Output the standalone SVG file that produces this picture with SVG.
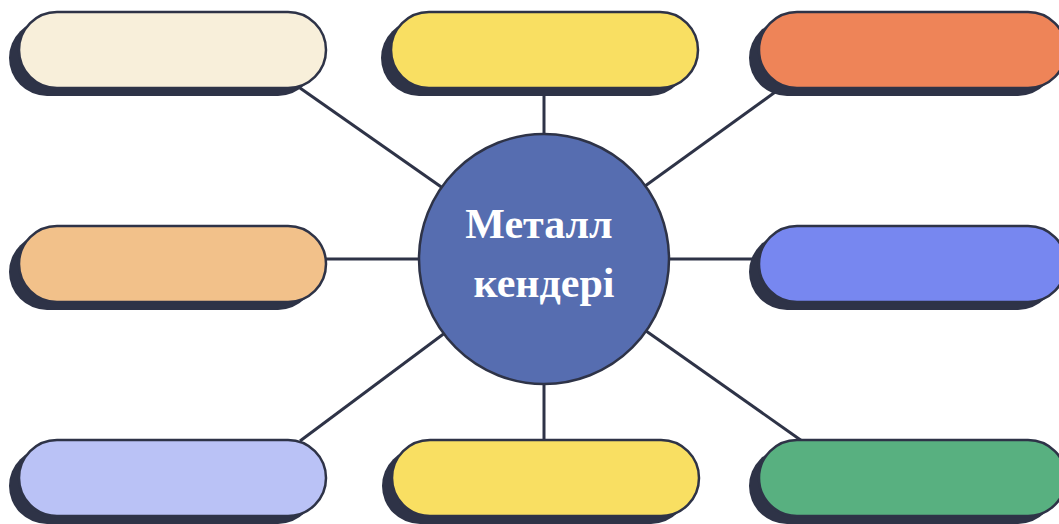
<svg xmlns="http://www.w3.org/2000/svg" width="1059" height="524" viewBox="0 0 1059 524">
<style>
.shadow{fill:#2E3347}
.pill{stroke:#2E3347;stroke-width:2.5}
.conn line{stroke:#2E3347;stroke-width:3}
.title{font-family:"Liberation Serif",serif;font-weight:bold;font-size:42px;fill:#FFFFFF;text-anchor:middle}
</style>
<defs>
<rect id="p" width="307" height="76" rx="38" ry="38"/>
</defs>
<g id="connectors" class="conn">
<line x1="544" y1="259" x2="300" y2="88"/>
<line x1="544" y1="259" x2="544" y2="88"/>
<line x1="544" y1="259" x2="778" y2="90"/>
<line x1="544" y1="259" x2="326" y2="259"/>
<line x1="544" y1="259" x2="759" y2="259"/>
<line x1="544" y1="259" x2="300" y2="441"/>
<line x1="544" y1="259" x2="544" y2="441"/>
<line x1="544" y1="259" x2="802" y2="441"/>
</g>
<g id="n1"><use href="#p" x="9" y="20" class="shadow"/><use href="#p" x="19" y="12" class="pill" fill="#F8EFDA"/></g>
<g id="n2"><use href="#p" x="381" y="20" class="shadow"/><use href="#p" x="391" y="12" class="pill" fill="#F9DF62"/></g>
<g id="n3"><use href="#p" x="749" y="20" class="shadow"/><use href="#p" x="759" y="12" class="pill" fill="#EE8458"/></g>
<g id="n4"><use href="#p" x="9" y="234" class="shadow"/><use href="#p" x="19" y="226" class="pill" fill="#F2C18A"/></g>
<g id="n5"><use href="#p" x="749" y="234" class="shadow"/><use href="#p" x="759" y="226" class="pill" fill="#7787F0"/></g>
<g id="n6"><use href="#p" x="9" y="448" class="shadow"/><use href="#p" x="19" y="440" class="pill" fill="#BAC2F6"/></g>
<g id="n7"><use href="#p" x="382" y="448" class="shadow"/><use href="#p" x="392" y="440" class="pill" fill="#F9DF62"/></g>
<g id="n8"><use href="#p" x="749" y="448" class="shadow"/><use href="#p" x="759" y="440" class="pill" fill="#58B080"/></g>
<g id="center">
<circle cx="544" cy="259" r="125" fill="#566DB0" stroke="#2E3347" stroke-width="2.5"/>
<text class="title" x="539" y="238">Металл</text>
<text class="title" x="544" y="297">кендері</text>
</g>
</svg>
